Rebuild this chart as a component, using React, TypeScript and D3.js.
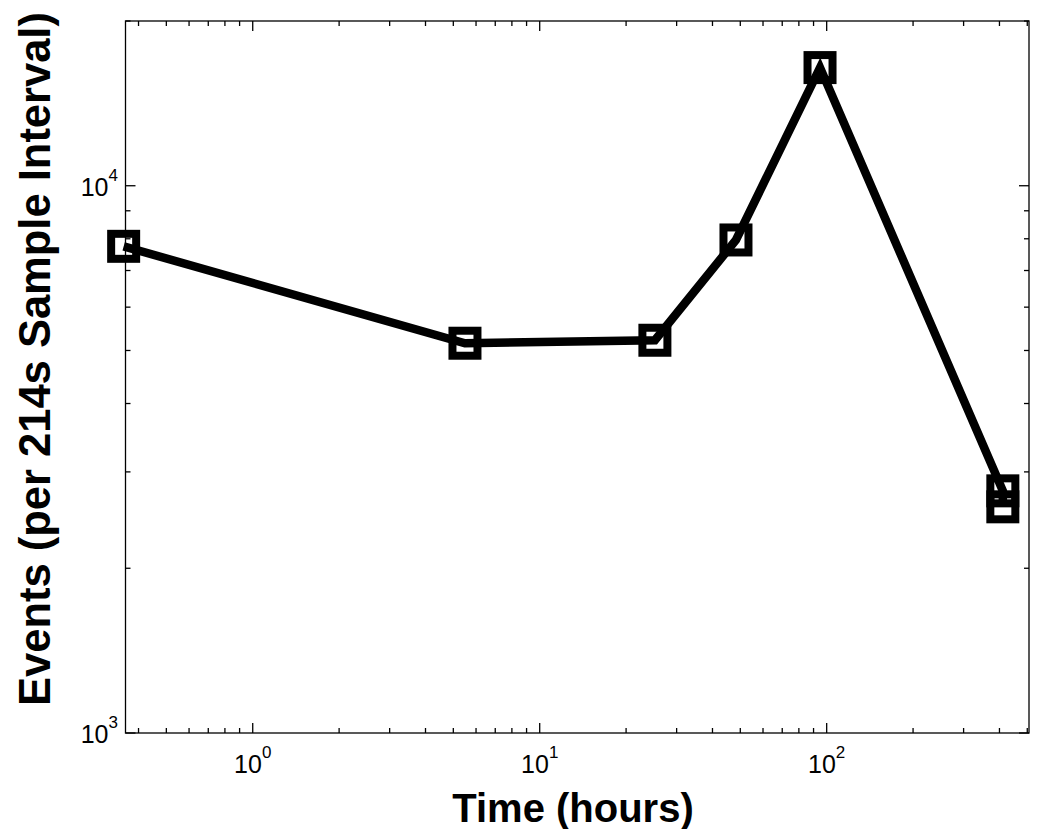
// Event counts per sample interval over time, log-log line with square markers

import React from 'react';
import * as d3 from 'd3';

// data
const hours = [0.355, 5.49, 25.2, 48.3, 94.8, 411, 411];
const events = [7750, 5155, 5220, 7960, 16440, 2770, 2590];

const xMajorTicks = [1, 10, 100];
const yMajorTicks = [1000, 10000];
const xTickLabels = ['0', '1', '2'];
const yTickLabels = ['3', '4'];

const width = 1050, height = 829;
const plot = { left: 125.5, right: 1029, top: 21, bottom: 733 };

const App = () => {
  // log scales for both axes
  const x = d3.scaleLog().domain([0.3603, 507]).range([plot.left, plot.right]);
  const y = d3.scaleLog().domain([1000, 20000]).range([plot.bottom, plot.top]);

  // minor ticks: 2..9 per decade inside the domain
  const xMinor: number[] = [];
  for (const dec of [0.1, 1, 10, 100]) {
    for (let k = 2; k <= 9; k++) {
      const v = dec * k;
      if (v > 0.3603 && v < 507) xMinor.push(v);
    }
  }
  const yMinor: number[] = [];
  for (const dec of [1000, 10000]) {
    for (let k = 2; k <= 9; k++) {
      const v = dec * k;
      if (v > 1000 && v <= 20000) yMinor.push(v);
    }
  }

  const line = d3.line<number>()
    .x((_, i) => x(hours[i]))
    .y(d => y(d));

  const font = '"Liberation Sans", Arial, sans-serif';
  const side = 25; // marker size

  return (
    <svg width={width} height={height} style={{ position: 'absolute', left: 0, top: 0, background: '#fff' }}>
      <rect x={0} y={0} width={width} height={height} fill="#fff" />
      {/* axes box */}
      <rect x={plot.left} y={plot.top} width={plot.right - plot.left} height={plot.bottom - plot.top} fill="none" stroke="#000" strokeWidth={1.3} />

      {/* x ticks, bottom and mirrored on top */}
      {xMajorTicks.map(t => (
        <g key={`xM${t}`}>
          <line x1={x(t)} x2={x(t)} y1={plot.bottom} y2={plot.bottom - 10} stroke="#000" strokeWidth={1.3} />
          <line x1={x(t)} x2={x(t)} y1={plot.top} y2={plot.top + 10} stroke="#000" strokeWidth={1.3} />
        </g>
      ))}
      {xMinor.map(t => (
        <g key={`xm${t}`}>
          <line x1={x(t)} x2={x(t)} y1={plot.bottom} y2={plot.bottom - 5} stroke="#000" strokeWidth={1.3} />
          <line x1={x(t)} x2={x(t)} y1={plot.top} y2={plot.top + 5} stroke="#000" strokeWidth={1.3} />
        </g>
      ))}
      {/* y ticks, left and mirrored on right */}
      {yMajorTicks.map(t => (
        <g key={`yM${t}`}>
          <line x1={plot.left} x2={plot.left + 10} y1={y(t)} y2={y(t)} stroke="#000" strokeWidth={1.3} />
          <line x1={plot.right} x2={plot.right - 10} y1={y(t)} y2={y(t)} stroke="#000" strokeWidth={1.3} />
        </g>
      ))}
      {yMinor.map(t => (
        <g key={`ym${t}`}>
          <line x1={plot.left} x2={plot.left + 5} y1={y(t)} y2={y(t)} stroke="#000" strokeWidth={1.3} />
          <line x1={plot.right} x2={plot.right - 5} y1={y(t)} y2={y(t)} stroke="#000" strokeWidth={1.3} />
        </g>
      ))}

      {/* tick labels as powers of ten */}
      {xMajorTicks.map((t, i) => (
        <text key={`xl${t}`} x={x(t)} y={773} textAnchor="middle" fontFamily={font} fontSize={25} fill="#000">
          10<tspan dy={-15} fontSize={17}>{xTickLabels[i]}</tspan>
        </text>
      ))}
      {yMajorTicks.map((t, i) => (
        <text key={`yl${t}`} x={118} y={y(t) + 10} textAnchor="end" fontFamily={font} fontSize={25} fill="#000">
          10<tspan dy={-15} fontSize={17}>{yTickLabels[i]}</tspan>
        </text>
      ))}

      {/* the series */}
      <path d={line(events) ?? ''} fill="none" stroke="#000" strokeWidth={8.5} strokeLinejoin="miter" />
      {events.map((v, i) => (
        <rect key={i} x={x(hours[i]) - side / 2} y={y(v) - side / 2} width={side} height={side} fill="none" stroke="#000" strokeWidth={8} />
      ))}

      {/* axis titles */}
      <text x={573} y={822} textAnchor="middle" fontFamily={font} fontWeight="bold" fontSize={40} fill="#000">Time (hours)</text>
      <text transform={`translate(50, 359) rotate(-90)`} textAnchor="middle" fontFamily={font} fontWeight="bold" fontSize={43.5} fill="#000">Events (per 214s Sample Interval)</text>
    </svg>
  );
};

export default App;
